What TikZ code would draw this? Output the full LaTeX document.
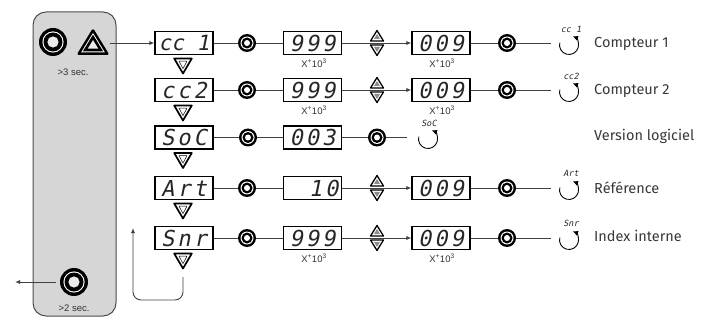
\documentclass[tikz,border=0pt]{standalone}
\usepackage{fontspec}
\setmainfont{Liberation Sans}
\newfontfamily\segfont[FakeSlant=0.2]{DejaVu Sans Mono}
\newfontfamily\segwide[FakeSlant=0.2,LetterSpace=14]{DejaVu Sans Mono}
\newfontfamily\labfont{Fira Sans}
\usetikzlibrary{arrows.meta}
\begin{document}
\begin{tikzpicture}[x=1pt,y=-1pt,
  conn/.style={draw=black!75, line width=0.9pt},
  arr/.style={conn, -{Latex[length=5pt,width=4pt]}},
  disp/.style={draw=black, line width=1.1pt, minimum width=58pt, minimum height=23pt, inner sep=0pt,
     font=\segwide\fontsize{22}{22}\selectfont, text=black!85},
  dispn/.style={disp, font=\segfont\fontsize{21}{21}\selectfont},
  ringS/.style={circle, fill=black, minimum size=18pt, inner sep=0pt, path picture={
     \fill[white] (path picture bounding box.center) circle[radius=6.5pt];
     \fill[black] (path picture bounding box.center) circle[radius=5.5pt];
     \fill[white] (path picture bounding box.center) circle[radius=3.0pt];}},
  ringB/.style={circle, fill=black, minimum size=28pt, inner sep=0pt, path picture={
     \fill[white] (path picture bounding box.center) circle[radius=10.6pt];
     \fill[black] (path picture bounding box.center) circle[radius=9.5pt];
     \fill[white!92!black] (path picture bounding box.center) circle[radius=5.6pt];}},
  xlab/.style={font=\fontsize{9.5}{10}\selectfont, text=black!80, inner sep=0pt},
  seclab/.style={font=\fontsize{9.5}{10}\selectfont, text=black!80, inner sep=0pt},
  seglab/.style={font=\segfont\fontsize{8.5}{8.5}\selectfont, text=black!85, inner sep=0pt},
  lab/.style={font=\labfont\fontsize{14.5}{15}\selectfont, text=black!78, anchor=west, inner sep=0pt},
  dtri/.pic={\draw[line width=1.7pt, line join=round, fill=white] (-8.8,-7.5) -- (8.8,-7.5) -- (0,7.5) -- cycle;
             \draw[line width=0.5pt, line join=round] (-4,-4.8) -- (4,-4.8) -- (0,2.6) -- cycle;},
  dtriS/.pic={\draw[line width=1.3pt, line join=round, fill=white] (-6.5,-5) -- (6.5,-5) -- (0,5.5) -- cycle;
             \fill[black!45] (-3,-3) -- (3,-3) -- (0,2) -- cycle;},
  utriS/.pic={\draw[line width=1.3pt, line join=round, fill=white] (-6.5,5) -- (6.5,5) -- (0,-5.5) -- cycle;
             \fill[black!45] (-3,3) -- (3,3) -- (0,-2) -- cycle;},
  rot/.pic={\draw[line width=0.9pt, -{Latex[length=5.5pt,width=5pt]}] (-165:9.5) arc[start angle=-165, end angle=-428, radius=9.5];},
  bigtri/.pic={
     \fill[black, rounded corners=2.5pt] (-16.5,13) -- (16.5,13) -- (0,-14) -- cycle;
     \begin{scope}[shift={(0,3.75)}]
       \fill[white, scale=0.72] (-16.5,9.25) -- (16.5,9.25) -- (0,-17.75) -- cycle;
       \fill[black, scale=0.62] (-16.5,9.25) -- (16.5,9.25) -- (0,-17.75) -- cycle;
       \fill[white!92!black, scale=0.32] (-16.5,9.25) -- (16.5,9.25) -- (0,-17.75) -- cycle;
     \end{scope}}
]
\useasboundingbox (0,0) rectangle (717,323);

% left panel
\draw[draw=black!70, fill=black!16, line width=1pt, rounded corners=13pt] (33,12) rectangle (116,316);
\node[ringB] (btn1) at (53,42) {};
\pic at (93,42) {bigtri};
\node[inner sep=0pt, minimum width=33pt, minimum height=27pt] (btn2) at (93,43) {};
\node[seclab] (s3) at (73,72) {>3 sec.};
\node[ringB] (btn3) at (74,282) {};
\node[seclab] (s2) at (74,308) {>2 sec.};
\coordinate (ex) at (15,282);
\draw[arr, shorten <=4pt] (btn3) -- (ex);

% boxes column 1
\node[dispn] (b11) at (184,43) {cc 1};
\node[disp] (b21) at (184,90) {cc2};
\node[disp] (b31) at (184,137.5) {SoC};
\node[disp] (b41) at (184,188) {Art};
\node[disp] (b51) at (184,238) {Snr};
\draw[arr] (btn2.east) -- (b11.west);
\foreach \y in {66,113,160.5,211,261} {\pic at (183,\y) {dtri};}

% column circles
\node[ringS] (c11) at (247,43) {};
\node[ringS] (c21) at (247,90) {};
\node[ringS] (c31) at (248,137.5) {};
\node[ringS] (c41) at (247,188) {};
\node[ringS] (c51) at (247,238) {};

% column 2 boxes
\node[disp] (b12) at (312.5,43) {999};
\node[disp] (b22) at (312.5,90) {999};
\node[disp] (b32) at (312.5,137.5) {003};
\node[disp, text width=52pt, align=right] (b42) at (312.5,188) {10};
\node[disp] (b52) at (312.5,238) {999};

% column 3 boxes
\node[disp] (b13) at (441,43) {009};
\node[disp] (b23) at (441,90) {009};
\node[disp] (b43) at (441,188) {009};
\node[disp] (b53) at (441,238) {009};

% end circles
\node[ringS] (c12) at (507,43) {};
\node[ringS] (c22) at (507,90) {};
\node[ringS] (c32) at (377,137.5) {};
\node[ringS] (c42) at (507,188) {};
\node[ringS] (c52) at (507,238) {};

\coordinate (e1) at (551,43);
\coordinate (e2) at (551,90);
\coordinate (e3) at (407,137.5);
\coordinate (e4) at (551,188);
\coordinate (e5) at (551,238);

% connectors
\foreach \r in {1,2,4,5} {
  \draw[conn] (b\r1) -- (c\r1);
  \draw[conn] (c\r1) -- (b\r2);
  \draw[arr] (b\r2) -- (b\r3);
  \draw[conn] (b\r3) -- (c\r2);
  \draw[conn] (c\r2) -- (e\r);
}
\draw[conn] (b31) -- (c31);
\draw[conn] (c31) -- (b32);
\draw[conn] (b32) -- (c32);
\draw[conn] (c32) -- (e3);

% up/down indicators
\foreach \y in {43,90,188,238} {
  \pic at (377,\y-7) {utriS};
  \pic at (377,\y+7) {dtriS};
}

% multipliers
\node[xlab] (x12) at (314,63) {X\textsuperscript{+}10\textsuperscript{3}};
\node[xlab] (x13) at (442,63) {X\textsuperscript{+}10\textsuperscript{3}};
\node[xlab] (x22) at (314,110) {X\textsuperscript{+}10\textsuperscript{3}};
\node[xlab] (x23) at (442,110) {X\textsuperscript{+}10\textsuperscript{3}};
\node[xlab] (x52) at (314,258) {X\textsuperscript{+}10\textsuperscript{3}};
\node[xlab] (x53) at (442,258) {X\textsuperscript{+}10\textsuperscript{3}};

% rotation icons and labels
\pic at (569,45) {rot};
\pic at (569,92) {rot};
\pic at (428,139) {rot};
\pic at (569,190) {rot};
\pic at (569,240) {rot};
\node[seglab] (g1) at (571,29) {cc 1};
\node[seglab] (g2) at (571,76) {cc2};
\node[seglab] (g3) at (429,123) {SoC};
\node[seglab] (g4) at (571,173) {Art};
\node[seglab] (g5) at (571,223) {Snr};

\node[lab] (t1) at (594,44) {Compteur 1};
\node[lab] (t2) at (594,91) {Compteur 2};
\node[lab] (t3) at (594,136) {Version logiciel};
\node[lab] (t4) at (594,188) {Référence};
\node[lab] (t5) at (594,236) {Index interne};

% return loop
\coordinate (l1) at (183,277);
\coordinate (l3) at (133,300);
\coordinate (l2) at (133,228);
\draw[arr, rounded corners=8pt] (l1) |- (l3) -- (l2);
\end{tikzpicture}
\end{document}
